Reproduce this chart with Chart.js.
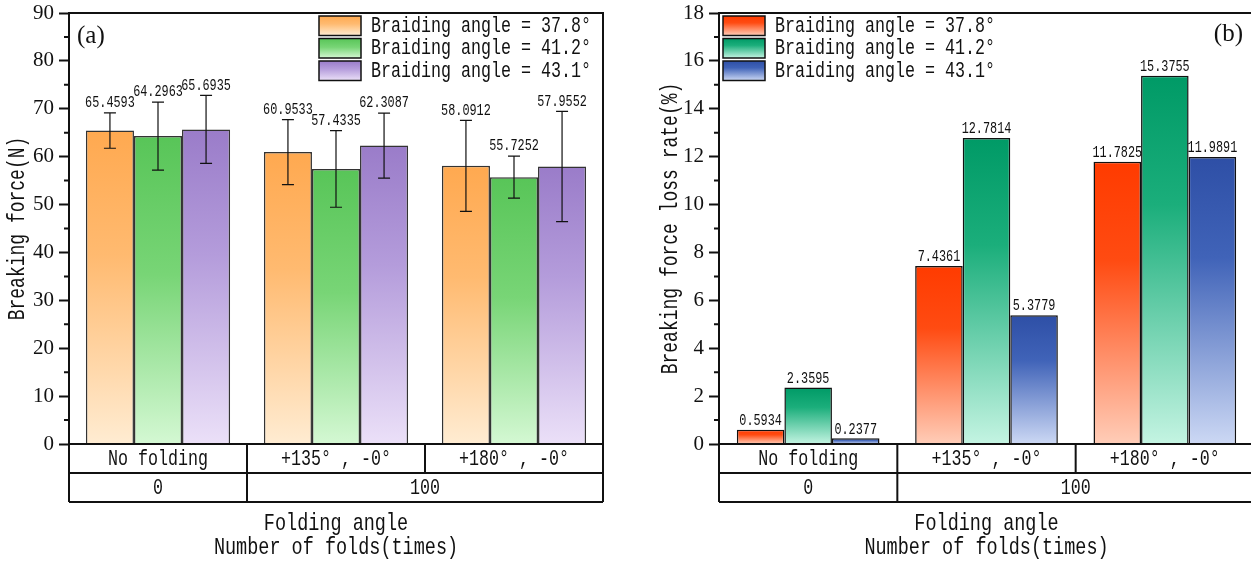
<!DOCTYPE html>
<html>
<head>
<meta charset="utf-8">
<script src="https://cdn.jsdelivr.net/npm/chart.js@4.4.0/dist/chart.umd.min.js"></script>
<style>
  body { margin: 0; background: #fff; overflow: hidden; width: 1251px; height: 562px; position: relative; }
  #boxA { position: absolute; left: 0; top: 0; }
  #boxB { position: absolute; left: 630px; top: 0; }
</style>
</head>
<body>
<canvas id="boxA" width="625" height="562"></canvas>
<canvas id="boxB" width="640" height="562"></canvas>
<script>
// categories (folding angle) and second header row (number of folds)
const categories = ['No folding', '+135° , -0°', '+180° , -0°'];
const foldCounts = ['0', '100', '100'];
const seriesNames = ['Braiding angle = 37.8°', 'Braiding angle = 41.2°', 'Braiding angle = 43.1°'];

// breaking force (N) with standard deviation
const force378 = [65.4593, 60.9533, 58.0912];
const force412 = [64.2963, 57.4335, 55.7252];
const force431 = [65.6935, 62.3087, 57.9552];
const forceErr378 = [3.7, 6.8, 9.5];
const forceErr412 = [7.1, 8.0, 4.4];
const forceErr431 = [7.1, 6.8, 11.5];

// breaking force loss rate (%)
const loss378 = [0.5934, 7.4361, 11.7825];
const loss412 = [2.3595, 12.7814, 15.3755];
const loss431 = [0.2377, 5.3779, 11.9891];

const forceAxis = { min: 0, max: 90, step: 10 };
const lossAxis = { min: 0, max: 18, step: 2 };

const MONO = '"Liberation Mono", monospace';
const SERIF = '"Liberation Serif", serif';

// tall, narrow monospaced text: size sets glyph height, charW the advance per character
function condensed(ctx, s, x, y, size, charW, align, rot) {
  ctx.save();
  ctx.font = size + 'px ' + MONO;
  ctx.fillStyle = '#111';
  ctx.textAlign = align || 'center';
  ctx.textBaseline = 'middle';
  ctx.translate(x, y);
  if (rot) ctx.rotate(rot);
  ctx.scale(charW / (size * 0.6), 1);
  ctx.fillText(s, 0, 0);
  ctx.restore();
}

function fillFor(stops) {
  return function (c) {
    const chart = c.chart;
    if (!chart.chartArea || c.type !== 'data') return stops[0][1];
    const ys = chart.scales.y;
    const top = ys.getPixelForValue(c.raw);
    const base = ys.getPixelForValue(0);
    const g = chart.ctx.createLinearGradient(0, top, 0, base);
    stops.forEach(s => g.addColorStop(s[0], s[1]));
    return g;
  };
}

const panelPlugin = {
  id: 'panel',
  afterDatasetsDraw(chart, args, o) {
    const ctx = chart.ctx, area = chart.chartArea;
    const xs = chart.scales.x, ys = chart.scales.y;
    ctx.save();

    // error bars and value labels
    chart.data.datasets.forEach((ds, i) => {
      const meta = chart.getDatasetMeta(i);
      meta.data.forEach((bar, j) => {
        const v = ds.data[j];
        let labelY = bar.y - 9;
        if (o.errors) {
          const e = o.errors[i][j];
          const yt = ys.getPixelForValue(v + e), yb = ys.getPixelForValue(v - e);
          ctx.strokeStyle = '#111';
          ctx.lineWidth = 1.2;
          ctx.beginPath();
          ctx.moveTo(bar.x, yt); ctx.lineTo(bar.x, yb);
          ctx.moveTo(bar.x - 6, yt); ctx.lineTo(bar.x + 6, yt);
          ctx.moveTo(bar.x - 6, yb); ctx.lineTo(bar.x + 6, yb);
          ctx.stroke();
          labelY = yt - 10;
        }
        condensed(ctx, v.toFixed(4), bar.x, labelY, 16, 7.1);
      });
    });

    // minor ticks
    ctx.strokeStyle = '#111';
    ctx.lineWidth = 2;
    ctx.beginPath();
    for (let v = ys.min + o.step / 2; v < ys.max; v += o.step) {
      const py = ys.getPixelForValue(v);
      ctx.moveTo(area.left - 5, py); ctx.lineTo(area.left, py);
    }
    ctx.stroke();

    // plot frame
    ctx.strokeRect(area.left, area.top, area.right - area.left, area.bottom - area.top);

    // two-row category table under the axis
    const n = categories.length;
    const edges = [];
    for (let i = 0; i <= n; i++) {
      if (i === 0) edges.push(area.left);
      else if (i === n) edges.push(area.right);
      else edges.push((xs.getPixelForValue(i - 1) + xs.getPixelForValue(i)) / 2);
    }
    const r0 = area.bottom, r1 = r0 + 29, r2 = r1 + 29;
    ctx.beginPath();
    ctx.moveTo(area.left, r1); ctx.lineTo(area.right, r1);
    ctx.moveTo(area.left, r2); ctx.lineTo(area.right, r2);
    ctx.moveTo(area.left, r0); ctx.lineTo(area.left, r2);
    ctx.moveTo(area.right, r0); ctx.lineTo(area.right, r2);
    for (let i = 1; i < n; i++) {
      ctx.moveTo(edges[i], r0); ctx.lineTo(edges[i], r1);
      if (foldCounts[i] !== foldCounts[i - 1]) { ctx.moveTo(edges[i], r1); ctx.lineTo(edges[i], r2); }
    }
    ctx.stroke();
    categories.forEach((c, i) => condensed(ctx, c, (edges[i] + edges[i + 1]) / 2, (r0 + r1) / 2 + 1, 22, 10));
    let start = 0;
    for (let i = 1; i <= n; i++) {
      if (i === n || foldCounts[i] !== foldCounts[start]) {
        condensed(ctx, foldCounts[start], (edges[start] + edges[i]) / 2, (r1 + r2) / 2 + 1, 22, 10);
        start = i;
      }
    }

    // axis titles
    const cx = (area.left + area.right) / 2;
    condensed(ctx, 'Folding angle', cx, 524, 24, 11.1);
    condensed(ctx, 'Number of folds(times)', cx, 548, 24, 11.1);
    condensed(ctx, o.yTitle, o.yTitleX, (area.top + area.bottom) / 2, 24, 10.8, 'center', -Math.PI / 2);

    // legend
    const L = o.legend;
    chart.data.datasets.forEach((ds, i) => {
      const by = L.y + i * 22.5;
      const g = ctx.createLinearGradient(0, by, 0, by + 19.5);
      o.fills[i].forEach(s => g.addColorStop(s[0], s[1]));
      ctx.fillStyle = g;
      ctx.fillRect(L.x, by, 42, 19.5);
      ctx.lineWidth = 1.5;
      ctx.strokeStyle = '#111';
      ctx.strokeRect(L.x, by, 42, 19.5);
      condensed(ctx, ds.label, L.x + 52, by + 10, 22, 10, 'left');
    });

    // panel letter
    ctx.font = '25px ' + SERIF;
    ctx.fillStyle = '#111';
    ctx.textBaseline = 'middle';
    ctx.textAlign = o.letter.align;
    ctx.fillText(o.letter.text, o.letter.x, o.letter.y);
    ctx.restore();
  }
};

function makeChart(id, series, fills, axis, border, opts, pad, axisWidth) {
  return new Chart(document.getElementById(id), {
    type: 'bar',
    data: {
      labels: categories,
      datasets: series.map((d, i) => ({
        label: seriesNames[i],
        data: d,
        backgroundColor: fillFor(fills[i]),
        borderColor: border,
        borderWidth: 1.5,
        categoryPercentage: opts.catPct,
        barPercentage: 1
      }))
    },
    options: {
      responsive: false,
      animation: false,
      layout: { padding: pad },
      plugins: {
        legend: { display: false },
        tooltip: { enabled: false },
        panel: Object.assign({ fills: fills, step: axis.step }, opts)
      },
      scales: {
        x: { display: false },
        y: {
          min: axis.min, max: axis.max,
          afterFit: s => { s.width = axisWidth; s.paddingTop = 0; s.paddingBottom = 0; },
          border: { display: false },
          grid: { drawOnChartArea: false, drawTicks: true, tickLength: 10, tickWidth: 2, tickColor: '#111' },
          ticks: { stepSize: axis.step, padding: 5, color: '#111', font: { family: SERIF, size: 21 } }
        }
      }
    },
    plugins: [panelPlugin]
  });
}

makeChart('boxA', [force378, force412, force431], [
  [[0, '#FFA950'], [0.4, '#FFBA70'], [1, '#FFECD2']],
  [[0, '#58C558'], [0.45, '#78D576'], [1, '#D4F8D3']],
  [[0, '#9A7CC9'], [0.4, '#B49CDB'], [1, '#EBE0F8']]
], forceAxis, '#333', {
  catPct: 0.81,
  errors: [forceErr378, forceErr412, forceErr431],
  yTitle: 'Breaking force(N)', yTitleX: 18,
  legend: { x: 319, y: 16 },
  letter: { text: '(a)', x: 77, y: 36, align: 'left' }
}, { left: 0, right: 22, top: 13, bottom: 118 }, 69);

makeChart('boxB', [loss378, loss412, loss431], [
  [[0, '#FF3B00'], [0.35, '#FF4B12'], [1, '#FFCDB8']],
  [[0, '#009A66'], [0.35, '#1BAE7B'], [1, '#C4F4E2']],
  [[0, '#2E4FA6'], [0.35, '#4063B8'], [1, '#CCD8F4']]
], lossAxis, '#111', {
  catPct: 0.80,
  yTitle: 'Breaking force loss rate(%)', yTitleX: 41,
  legend: { x: 93, y: 16 },
  letter: { text: '(b)', x: 613, y: 34, align: 'right' }
}, { left: 0, right: 16, top: 13, bottom: 118 }, 89);
</script>
</body>
</html>
